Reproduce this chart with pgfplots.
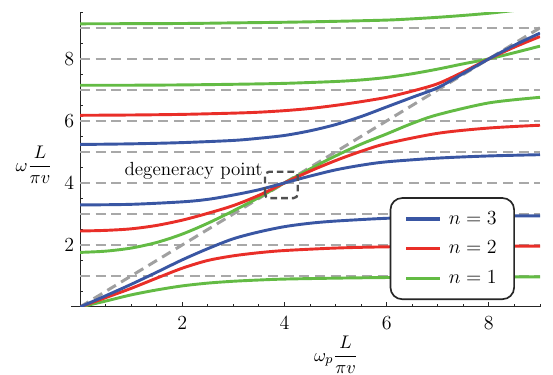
\documentclass[border=0pt]{standalone}
\usepackage{pgfplots}
\pgfplotsset{compat=1.18}
\definecolor{blueC}{RGB}{57,86,163}
\definecolor{redC}{RGB}{233,46,40}
\definecolor{greenC}{RGB}{99,187,68}
\definecolor{hgrid}{RGB}{168,168,168}
\definecolor{dgrid}{RGB}{160,160,160}
\definecolor{boxC}{RGB}{80,80,80}
\begin{document}
\begin{tikzpicture}
\begin{axis}[name=ax, scale only axis, width=276pt, height=176.8pt,
  axis lines=left, axis line style={-, line width=0.6pt, black!85},
  xmin=0, xmax=9, ymin=0, ymax=9.5,
  xtick={2,4,6,8}, ytick={2,4,6,8},
  minor xtick={0.5,1,...,9}, minor ytick={0.5,1,...,9.5},
  tick align=inside, major tick length=3pt, minor tick length=1.8pt,
  tick style={black!85, line width=0.55pt},
  tick label style={font=\fontsize{11.5}{13}\selectfont},
  xticklabel style={yshift=-2.5pt},
  every axis x label/.style={at={(rel axis cs:0.5565,0)}, anchor=north, yshift=-14pt, font=\fontsize{11}{13}\selectfont},
  every axis y label/.style={at={(rel axis cs:0,0.482)}, anchor=center, xshift=-27.6pt, font=\fontsize{11}{13}\selectfont},
  xlabel={$\displaystyle\omega_p\frac{L}{\pi v}$},
  ylabel={$\displaystyle\omega\frac{L}{\pi v}$},
  legend style={at={(axis cs:8.51,3.54)}, anchor=north east, draw=black!85, line width=1pt, rounded corners=7pt,
    font=\fontsize{12.5}{14}\selectfont, inner xsep=8.5pt, inner ysep=6pt, row sep=4.5pt},
  legend cell align=left,
  legend image code/.code={\draw[#1] (0pt,0pt) -- (20pt,0pt);},
]
\addlegendimage{blueC, line width=2pt}\addlegendentry{\hspace{2.5pt}$n=3$\hspace{15pt}}
\addlegendimage{redC, line width=2pt}\addlegendentry{\hspace{2.5pt}$n=2$\hspace{15pt}}
\addlegendimage{greenC, line width=2pt}\addlegendentry{\hspace{2.5pt}$n=1$\hspace{15pt}}

% horizontal reference lines
\pgfplotsinvokeforeach{1,...,9}{
  \addplot[forget plot, hgrid, line width=0.8pt, dash pattern=on 6pt off 3.4pt] coordinates {(0,#1) (9,#1)};
}
% diagonal
\addplot[forget plot, dgrid, line width=1.8pt, dash pattern=on 6pt off 3.6pt] coordinates {(0,0) (9,9)};

% n = 1 (green)
\addplot[forget plot, greenC, line width=1.75pt, smooth] coordinates {
(0,0) (0.5,0.19) (1,0.39) (1.5,0.55) (2,0.68) (2.5,0.77) (3,0.83) (3.5,0.87) (4,0.9) (5,0.93) (6,0.95) (7,0.96) (8,0.97) (9,0.97)};
\addplot[forget plot, greenC, line width=1.75pt, smooth] coordinates {
(0,1.76) (0.5,1.8) (1,1.9) (1.5,2.08) (2,2.35) (2.5,2.7) (3,3.1) (3.5,3.53) (4,4.0) (4.5,4.45) (5,4.87) (5.5,5.25) (6,5.58) (6.5,5.92) (7,6.2) (8,6.58) (9,6.76)};
\addplot[forget plot, greenC, line width=1.75pt, smooth] coordinates {
(0,7.15) (1,7.15) (2,7.16) (3,7.18) (4,7.21) (5,7.27) (5.5,7.32) (6,7.40) (6.5,7.52) (7,7.67) (7.5,7.84) (8,8.0) (8.5,8.2) (9,8.41)};
\addplot[forget plot, greenC, line width=1.75pt, smooth] coordinates {
(0,9.13) (2,9.14) (3,9.16) (4,9.18) (5,9.21) (6,9.25) (6.5,9.29) (7,9.34) (7.5,9.40) (8,9.47) (8.5,9.56) (9,9.65)};

% n = 2 (red)
\addplot[forget plot, redC, line width=1.75pt, smooth] coordinates {
(0,0) (0.5,0.30) (1,0.6) (1.5,0.93) (2,1.25) (2.5,1.5) (3,1.65) (3.5,1.75) (4,1.82) (5,1.9) (6,1.94) (7,1.95) (8,1.96) (9,1.96)};
\addplot[forget plot, redC, line width=1.75pt, smooth] coordinates {
(0,2.45) (0.5,2.47) (1,2.52) (1.5,2.63) (2,2.8) (2.5,3.02) (3,3.27) (3.5,3.6) (4,4.0) (4.5,4.38) (5,4.72) (5.5,5.02) (6,5.27) (7,5.6) (8,5.77) (9,5.86)};
\addplot[forget plot, redC, line width=1.75pt, smooth] coordinates {
(0,6.18) (1,6.19) (2,6.21) (3,6.25) (3.5,6.28) (4,6.33) (4.5,6.4) (5,6.5) (5.5,6.62) (6,6.76) (6.5,6.96) (7,7.2) (7.5,7.58) (8,8.0) (8.5,8.38) (9,8.72)};

% n = 3 (blue)
\addplot[forget plot, blueC, line width=1.75pt, smooth] coordinates {
(0,0) (0.5,0.36) (1,0.73) (1.5,1.12) (2,1.52) (2.5,1.88) (3,2.2) (3.5,2.42) (4,2.59) (4.5,2.7) (5,2.77) (6,2.86) (7,2.9) (8,2.93) (9,2.94)};
\addplot[forget plot, blueC, line width=1.75pt, smooth] coordinates {
(0,3.29) (1,3.31) (2,3.39) (2.5,3.47) (3,3.61) (3.5,3.78) (4,4.0) (4.5,4.22) (5,4.42) (5.5,4.57) (6,4.68) (7,4.8) (8,4.87) (9,4.91)};
\addplot[forget plot, blueC, line width=1.75pt, smooth] coordinates {
(0,5.24) (1,5.26) (2,5.3) (3,5.37) (3.5,5.44) (4,5.53) (4.5,5.68) (5,5.88) (5.5,6.14) (6,6.45) (6.5,6.76) (7,7.07) (7.5,7.53) (8,8.0) (8.5,8.44) (9,8.83)};

\draw[boxC, line width=1.4pt, dash pattern=on 4pt off 2.4pt, rounded corners=2.5pt] (axis cs:3.62,3.51) rectangle (axis cs:4.26,4.36);
\node[anchor=base east, inner sep=0pt, font=\fontsize{11.4}{13}\selectfont] at (axis cs:3.58,4.23) {degeneracy point};
\end{axis}
\draw[line width=0.6pt, black!85] ([xshift=-5.4pt]ax.south west) -- (ax.south west);
\pgfresetboundingbox
\path[use as bounding box] ([shift={(-48pt,-40.8pt)}]ax.south west) rectangle ([shift={(7.8pt,7.4pt)}]ax.north east);
\end{tikzpicture}
\end{document}
